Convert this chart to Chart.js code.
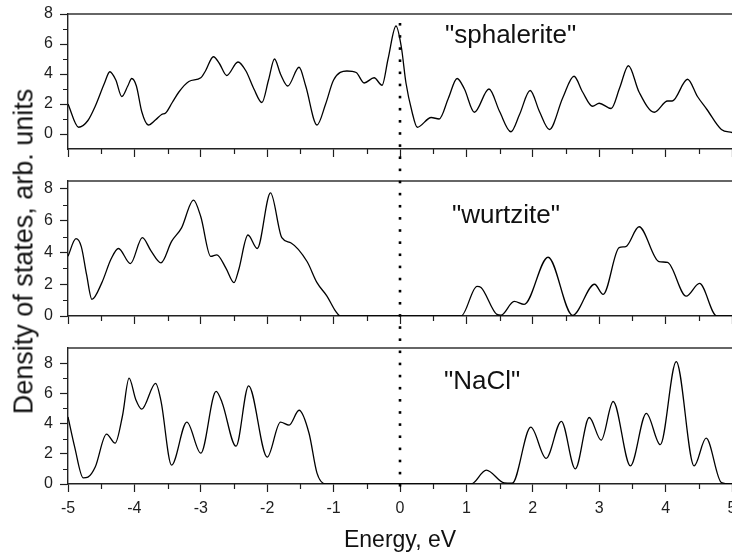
<!DOCTYPE html>
<html>
<head>
<meta charset="utf-8">
<script src="https://cdn.jsdelivr.net/npm/chart.js@4/dist/chart.umd.min.js"></script>
<style>
  html, body { margin: 0; padding: 0; background: #fff; }
  #wrap { position: relative; width: 732px; height: 557px; overflow: hidden; background: #fff;
          font-family: "Liberation Sans", Arial, sans-serif; }
  #wrap canvas { position: absolute; left: 0; }
  #ytitle { position: absolute; width: 420px; height: 27px; line-height: 27px; left: -186.4px; top: 237.5px;
            font-size: 27px; color: #111; text-align: center; white-space: nowrap;
            transform: rotate(-90deg); transform-origin: 50% 50%; }
</style>
</head>
<body>
<div id="wrap">
  <canvas id="sph" width="732" height="166" style="top:0;width:732px;height:166px"></canvas>
  <canvas id="wur" width="732" height="166" style="top:166px;width:732px;height:166px"></canvas>
  <canvas id="nacl" width="732" height="225" style="top:332px;width:732px;height:225px"></canvas>
  <div id="ytitle">Density of states, arb. units</div>
</div>
<script>
// ---- Energy grid ticks (eV) ----
const energyTicks = [-5, -4, -3, -2, -1, 0, 1, 2, 3, 4, 5];
const energyMinorTicks = [-4.5, -3.5, -2.5, -1.5, -0.5, 0.5, 1.5, 2.5, 3.5, 4.5];
const dosTicks = [0, 2, 4, 6, 8];
const dosMinorTicks = [1, 3, 5, 7];

// ---- "sphalerite" DOS ----
const sphEnergy = [-5.00, -4.84, -4.70, -4.59, -4.45, -4.37, -4.28, -4.19, -4.10, -4.04, -3.97, -3.89, -3.79, -3.68,
  -3.59, -3.53, -3.43, -3.33, -3.18, -3.00, -2.93, -2.81, -2.72, -2.61, -2.44, -2.32, -2.20, -2.08, -1.98, -1.89,
  -1.80, -1.69, -1.52, -1.42, -1.25, -1.12, -1.00, -0.80, -0.66, -0.54, -0.39, -0.27, -0.18, -0.06, 0.02, 0.09,
  0.18, 0.26, 0.47, 0.59, 0.73, 0.86, 0.97, 1.12, 1.34, 1.50, 1.67, 1.80, 1.96, 2.10, 2.25, 2.45, 2.62, 2.75,
  2.90, 3.00, 3.18, 3.31, 3.44, 3.60, 3.83, 4.03, 4.10, 4.33, 4.48, 4.62, 4.84, 5.00];
const sphDos = [2.0, 0.45, 0.9, 1.85, 3.4, 4.15, 3.6, 2.5, 3.2, 3.7, 3.2, 1.5, 0.6, 0.95,
  1.3, 1.4, 2.1, 2.8, 3.5, 3.75, 4.2, 5.15, 4.7, 3.9, 4.8, 4.2, 3.0, 2.1, 3.6, 5.0,
  4.0, 3.2, 4.45, 3.2, 0.6, 2.0, 3.6, 4.2, 4.1, 3.4, 3.75, 3.25, 5.0, 7.2, 5.8, 3.4,
  1.5, 0.45, 1.1, 1.0, 2.4, 3.7, 3.0, 1.45, 3.0, 1.5, 0.15, 1.3, 2.9, 1.5, 0.3, 2.4, 3.85, 2.8,
  1.85, 2.05, 1.7, 3.1, 4.55, 2.8, 1.45, 2.2, 2.2, 3.65, 2.5, 1.65, 0.3, 0.1];

// ---- "wurtzite" DOS ----
const wurEnergy = [-5.00, -4.88, -4.80, -4.72, -4.64, -4.49, -4.35, -4.24, -4.06, -3.88, -3.75, -3.60, -3.44, -3.29,
  -3.11, -3.00, -2.85, -2.76, -2.62, -2.50, -2.43, -2.29, -2.15, -1.95, -1.78, -1.64, -1.40, -1.25, -1.10, -0.97,
  -0.90, 0.92, 1.16, 1.22, 1.46, 1.52, 1.72, 1.87, 2.23, 2.60, 2.93, 3.06, 3.30, 3.40, 3.60, 3.90, 4.03, 4.31,
  4.51, 4.77, 5.00];
const wurDos = [3.76, 4.87, 4.37, 2.6, 1.05, 2.1, 3.6, 4.25, 3.3, 4.93, 4.1, 3.35, 4.7, 5.55,
  7.3, 6.25, 3.75, 3.85, 3.0, 2.1, 2.9, 5.1, 4.25, 7.75, 4.93, 4.6, 3.43, 2.1, 1.25, 0.3,
  0, 0, 1.87, 1.8, 0.1, 0.05, 0.92, 0.73, 3.7, 0.04, 2.0, 1.36, 4.3, 4.37, 5.62, 3.43, 3.37, 1.25,
  2.05, 0, 0];

// ---- "NaCl" DOS ----
const naclEnergy = [-5.00, -4.90, -4.77, -4.70, -4.59, -4.42, -4.29, -4.18, -4.08, -3.98, -3.89, -3.68, -3.60, -3.44,
  -3.21, -3.00, -2.77, -2.68, -2.47, -2.28, -2.00, -1.80, -1.67, -1.52, -1.37, -1.25, -1.12, 1.07, 1.30, 1.57,
  1.69, 1.97, 2.20, 2.43, 2.64, 2.85, 3.03, 3.21, 3.47, 3.71, 3.92, 4.16, 4.43, 4.61, 4.84, 5.00];
const naclDos = [4.44, 2.46, 0.4, 0.45, 1.12, 3.3, 2.7, 4.5, 7.0, 5.6, 4.95, 6.66, 5.5, 1.25,
  4.1, 2.04, 6.13, 5.4, 2.5, 6.5, 1.78, 4.1, 3.9, 4.88, 3.36, 0.72, 0, 0, 0.92, 0.07,
  0.05, 3.76, 1.7, 4.15, 1.0, 4.4, 2.9, 5.46, 1.2, 4.68, 2.6, 8.1, 1.2, 3.03, 0.1, 0];

// ---- drawing ----
const FONT = '"Liberation Sans", Arial, sans-serif';
const INK = '#1e1e1e';

// Fermi-level marker: a column of dots running through all three panels (page coordinates)
const FERMI_DOT_FIRST = 24.3;
const FERMI_DOT_STEP = 12.13;
const FERMI_DOT_LAST = 486;

const panelDecor = {
  id: 'panelDecor',
  afterDraw(chart, args, o) {
    const { ctx, chartArea: a } = chart;
    const x = chart.scales.x, y = chart.scales.y;
    ctx.save();
    // upper frame line
    ctx.strokeStyle = '#333';
    ctx.lineWidth = 1.6;
    ctx.beginPath();
    ctx.moveTo(a.left, a.top);
    ctx.lineTo(a.right, a.top);
    ctx.stroke();
    // short minor ticks
    ctx.strokeStyle = INK;
    ctx.lineWidth = 1.2;
    ctx.beginPath();
    energyMinorTicks.forEach(v => {
      const px = Math.round(x.getPixelForValue(v)) + 0.5;
      ctx.moveTo(px, a.bottom);
      ctx.lineTo(px, a.bottom + 5);
    });
    dosMinorTicks.forEach(v => {
      const py = Math.round(y.getPixelForValue(v)) + 0.5;
      ctx.moveTo(a.left, py);
      ctx.lineTo(a.left - 5, py);
    });
    ctx.stroke();
    // dotted line at E = 0
    const px0 = x.getPixelForValue(0);
    ctx.fillStyle = '#000';
    for (let k = 0; ; k++) {
      const yPage = FERMI_DOT_FIRST + k * FERMI_DOT_STEP;
      if (yPage > FERMI_DOT_LAST) break;
      const yl = yPage - o.pageTop;
      if (yl < -3 || yl > chart.height + 3) continue;
      ctx.fillRect(px0 - 1.3, yl - 1.3, 2.6, 2.6);
    }
    // structure name
    ctx.fillStyle = '#111';
    ctx.font = '26px ' + FONT;
    ctx.textBaseline = 'alphabetic';
    ctx.textAlign = 'left';
    ctx.fillText(o.label, o.labelX, o.labelY);
    ctx.restore();
  }
};

function makePanel(id, energy, dos, cfg) {
  const points = energy.map((e, i) => ({ x: e, y: dos[i] }));
  return new Chart(document.getElementById(id), {
    type: 'line',
    data: {
      datasets: [{
        data: points,
        borderColor: '#000',
        borderWidth: 1.3,
        pointRadius: 0,
        fill: false,
        cubicInterpolationMode: 'monotone'
      }]
    },
    options: {
      responsive: false,
      animation: false,
      events: [],
      layout: { autoPadding: false, padding: { top: cfg.top, right: -3, bottom: 0, left: 0 } },
      plugins: {
        legend: { display: false },
        tooltip: { enabled: false },
        panelDecor: { pageTop: cfg.pageTop, label: cfg.label, labelX: cfg.labelX, labelY: cfg.labelY }
      },
      scales: {
        x: {
          type: 'linear',
          min: -5, max: 5,
          afterBuildTicks: s => { s.ticks = energyTicks.map(v => ({ value: v })); },
          // fixed axis band; the last label is allowed to run past the canvas edge
          afterFit: s => { s.height = cfg.xHeight; s.paddingLeft = 0; s.paddingRight = 0; },
          ticks: {
            display: cfg.xLabels,
            autoSkip: false, maxRotation: 0,
            padding: 7,
            color: INK,
            font: { family: FONT, size: 16 },
            callback: v => String(v)
          },
          grid: { drawOnChartArea: false, drawTicks: true, tickLength: 8, tickColor: INK, tickWidth: 1.2 },
          border: { display: true, color: '#222', width: 1.4 },
          title: {
            display: cfg.xLabels,
            text: 'Energy, eV',
            color: '#111',
            font: { family: FONT, size: 23 },
            padding: { top: 0, bottom: 3 }
          }
        },
        y: {
          type: 'linear',
          min: cfg.yMin, max: cfg.yMax,
          afterBuildTicks: s => { s.ticks = dosTicks.map(v => ({ value: v })); },
          afterFit: s => { s.width = 68; s.paddingTop = 0; s.paddingBottom = 0; },
          ticks: {
            padding: 7,
            color: INK,
            font: { family: FONT, size: 16 },
            callback: v => String(v)
          },
          grid: { drawOnChartArea: false, drawTicks: true, tickLength: 8, tickColor: INK, tickWidth: 1.2 },
          border: { display: true, color: '#222', width: 1.4 }
        }
      }
    },
    plugins: [panelDecor]
  });
}

makePanel('sph', sphEnergy, sphDos, {
  top: 14, xHeight: 17, pageTop: 0, yMin: -1, yMax: 8, xLabels: false,
  label: '"sphalerite"', labelX: 445, labelY: 43
});
makePanel('wur', wurEnergy, wurDos, {
  top: 15, xHeight: 16, pageTop: 166, yMin: 0, yMax: 8.5, xLabels: false,
  label: '"wurtzite"', labelX: 452, labelY: 57
});
makePanel('nacl', naclEnergy, naclDos, {
  top: 16, xHeight: 73, pageTop: 332, yMin: 0, yMax: 9, xLabels: true,
  label: '"NaCl"', labelX: 444, labelY: 57
});
</script>
</body>
</html>
